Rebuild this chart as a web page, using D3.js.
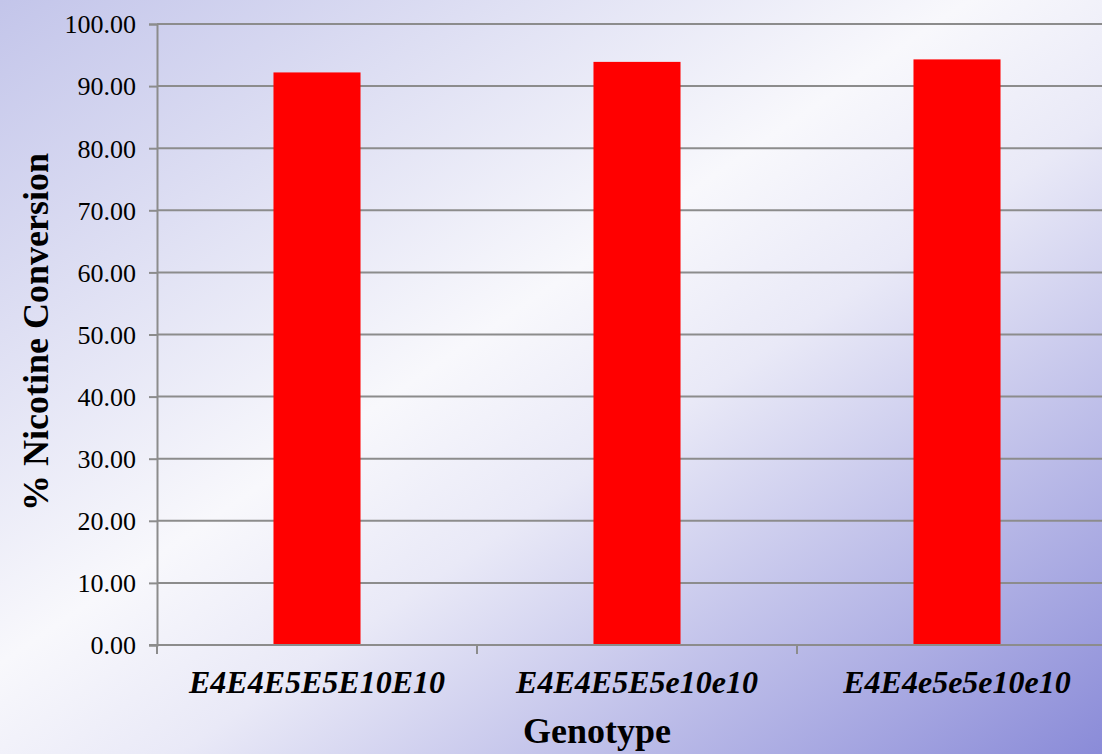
<!DOCTYPE html>
<html>
<head>
<meta charset="utf-8">
<script src="https://cdn.jsdelivr.net/npm/d3@7"></script>
<style>
  html, body { margin: 0; padding: 0; }
  body { width: 1102px; height: 754px; overflow: hidden; }
  text { font-family: "Liberation Serif", "Times New Roman", serif; fill: #000; }
</style>
</head>
<body>
<div id="chart"></div>
<script>
(function () {
  // data
  const genotypes = ["E4E4E5E5E10E10", "E4E4E5E5e10e10", "E4E4e5e5e10e10"];
  const conversion = [92.2, 93.9, 94.3];
  const yTicks = [0, 10, 20, 30, 40, 50, 60, 70, 80, 90, 100];

  const width = 1102;
  const height = 754;
  const margin = { top: 24, right: -15, bottom: 109, left: 157 };

  const svg = d3.select("#chart").append("svg")
    .attr("width", width)
    .attr("height", height);

  // background: diagonal lavender -> white -> blue-violet
  const grad = svg.append("defs").append("linearGradient")
    .attr("id", "bg")
    .attr("x1", "0%").attr("y1", "0%")
    .attr("x2", "100%").attr("y2", "100%");
  grad.append("stop").attr("offset", "0%").attr("stop-color", "#c3c5ea");
  grad.append("stop").attr("offset", "44%").attr("stop-color", "#f8f8fc");
  grad.append("stop").attr("offset", "58%").attr("stop-color", "#e9e9f7");
  grad.append("stop").attr("offset", "100%").attr("stop-color", "#8a8bd8");

  svg.append("rect")
    .attr("width", width)
    .attr("height", height)
    .attr("fill", "url(#bg)");

  const x = d3.scaleBand()
    .domain(genotypes)
    .range([margin.left, width - margin.right])
    .paddingInner(0.728)
    .paddingOuter(0.364);

  const y = d3.scaleLinear()
    .domain([0, 100])
    .range([height - margin.bottom, margin.top]);

  // gridlines
  svg.append("g")
    .selectAll("line")
    .data(yTicks.filter(d => d > 0))
    .join("line")
    .attr("x1", margin.left)
    .attr("x2", width - margin.right)
    .attr("y1", d => y(d))
    .attr("y2", d => y(d))
    .attr("stroke", "#8c8c8c")
    .attr("stroke-width", 2);

  // bars
  svg.append("g")
    .selectAll("rect")
    .data(conversion)
    .join("rect")
    .attr("x", (d, i) => x(genotypes[i]))
    .attr("y", d => y(d))
    .attr("width", x.bandwidth())
    .attr("height", d => y(0) - y(d))
    .attr("fill", "#ff0000");

  // y axis
  const yAxis = svg.append("g")
    .attr("transform", `translate(${margin.left},0)`)
    .call(d3.axisLeft(y).tickValues(yTicks).tickFormat(d3.format(".2f")).tickSize(8).tickPadding(13));
  yAxis.select(".domain").attr("stroke", "#8c8c8c").attr("stroke-width", 2);
  yAxis.selectAll(".tick line").attr("stroke", "#8c8c8c").attr("stroke-width", 2);
  yAxis.selectAll(".tick text")
    .attr("dy", "0.34em")
    .style("font-size", "26px")
    .style("font-family", "'Liberation Serif', serif");

  // x axis, ticks on band boundaries
  const xAxisG = svg.append("g")
    .attr("transform", `translate(0,${y(0)})`);
  xAxisG.append("line")
    .attr("x1", margin.left - 8)
    .attr("x2", width - margin.right)
    .attr("stroke", "#8c8c8c")
    .attr("stroke-width", 2);
  const step = x.step();
  const bounds = d3.range(genotypes.length + 1).map(i => margin.left + i * step);
  xAxisG.selectAll("line.tk")
    .data(bounds)
    .join("line")
    .attr("class", "tk")
    .attr("x1", d => d).attr("x2", d => d)
    .attr("y1", 0).attr("y2", 9)
    .attr("stroke", "#8c8c8c")
    .attr("stroke-width", 2);
  xAxisG.selectAll("text")
    .data(genotypes)
    .join("text")
    .attr("x", d => x(d) + x.bandwidth() / 2)
    .attr("y", 48)
    .attr("text-anchor", "middle")
    .style("font-size", "32px")
    .style("font-weight", "bold")
    .style("font-style", "italic")
    .text(d => d);

  // axis titles
  svg.append("text")
    .attr("x", 597)
    .attr("y", 743)
    .attr("text-anchor", "middle")
    .style("font-size", "36px")
    .style("font-weight", "bold")
    .text("Genotype");

  svg.append("text")
    .attr("transform", "translate(48,332) rotate(-90)")
    .attr("text-anchor", "middle")
    .style("font-size", "36px")
    .style("font-weight", "bold")
    .text("% Nicotine Conversion");
})();
</script>
</body>
</html>
